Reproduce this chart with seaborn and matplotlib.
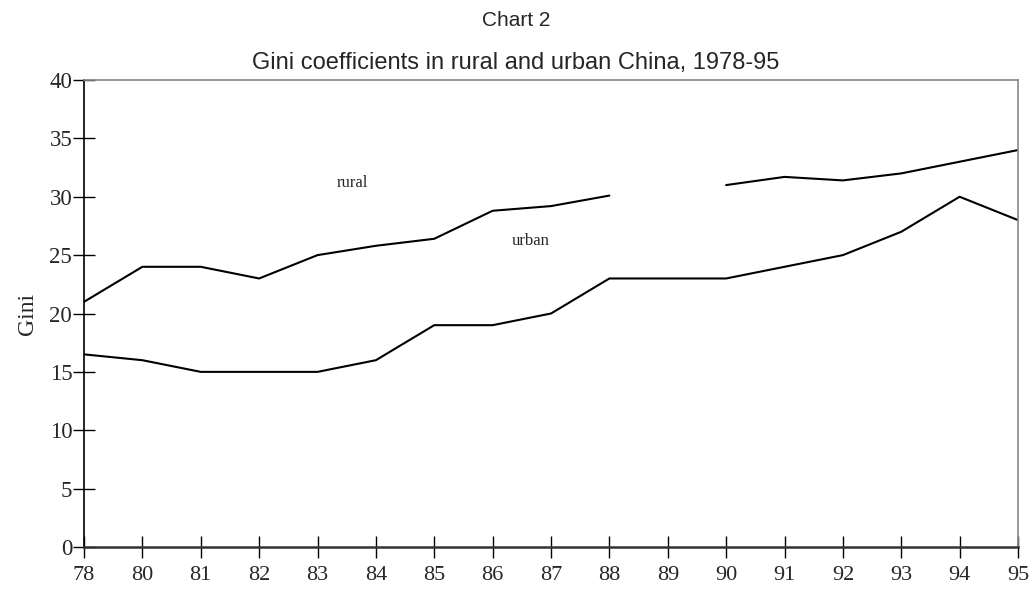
import numpy as np
import pandas as pd
import matplotlib
matplotlib.use("Agg")
import matplotlib.pyplot as plt
import seaborn as sns

years = ["78", "80", "81", "82", "83", "84", "85", "86", "87", "88",
         "89", "90", "91", "92", "93", "94", "95"]
rural = [21.0, 24.0, 24.0, 23.0, 25.0, 25.8, 26.4, 28.8, 29.2, 30.1,
         np.nan, 31.0, 31.7, 31.4, 32.0, 33.0, 34.0]
urban = [16.5, 16.0, 15.0, 15.0, 15.0, 16.0, 19.0, 19.0, 20.0, 23.0,
         23.0, 23.0, 24.0, 25.0, 27.0, 30.0, 28.0]
yticks = [0, 5, 10, 15, 20, 25, 30, 35, 40]

sns.set_theme(style="white")
serif = ["Liberation Serif", "DejaVu Serif"]
sans = ["Liberation Sans", "DejaVu Sans"]

fig = plt.figure(figsize=(10.32, 5.91), dpi=100)
ax = fig.add_axes([84 / 1032, 1 - 547 / 591, (1018 - 84) / 1032, (547 - 80) / 591])

pos = np.arange(len(years))
df = pd.DataFrame({"pos": pos, "year": years, "rural": rural, "urban": urban})

# rural: draw contiguous segments (gap where data missing)
valid = df["rural"].notna()
df["seg"] = (~valid).cumsum()
for s, sub in df[valid].groupby("seg"):
    sns.lineplot(data=sub, x="pos", y="rural", ax=ax, color="black",
                 linewidth=1.5, estimator=None, sort=False)
sns.lineplot(data=df, x="pos", y="urban", ax=ax, color="black",
             linewidth=1.5, estimator=None, sort=False)

ax.set_xlim(0, len(years) - 1)
ax.set_ylim(0, 40)
ax.set_xticks(pos)
ax.set_xticklabels(years, fontfamily=serif, fontsize=16)
ax.set_yticks(yticks)
ax.set_yticklabels([str(v) for v in yticks], fontfamily=serif, fontsize=16.5)
ax.tick_params(axis="x", bottom=True, direction="inout", length=16, width=1,
               color="black", pad=6)
ax.tick_params(axis="y", left=True, direction="inout", length=16, width=1,
               color="black", pad=0.5)
ax.set_xlabel("")
ax.set_ylabel("Gini", fontfamily=serif, fontsize=17, labelpad=8)

ax.spines["left"].set_color("black")
ax.spines["left"].set_linewidth(1.2)
ax.spines["bottom"].set_color("#333333")
ax.spines["bottom"].set_linewidth(1.8)
for side in ["top", "right"]:
    ax.spines[side].set_color("#888888")
    ax.spines[side].set_linewidth(1.2)
    ax.spines[side].set_visible(True)

ax.text(4.6, 31.2, "rural", fontfamily=serif, fontsize=12, ha="center", va="center")
ax.text(7.65, 26.2, "urban", fontfamily=serif, fontsize=12, ha="center", va="center")

fig.text(0.5, 1 - 20 / 591, "Chart 2", fontfamily=sans, fontsize=15, ha="center", va="center")
fig.text(0.5, 1 - 63 / 591, "Gini coefficients in rural and urban China, 1978-95",
         fontfamily=sans, fontsize=17, ha="center", va="center")

fig.savefig("out.png", dpi=100)
